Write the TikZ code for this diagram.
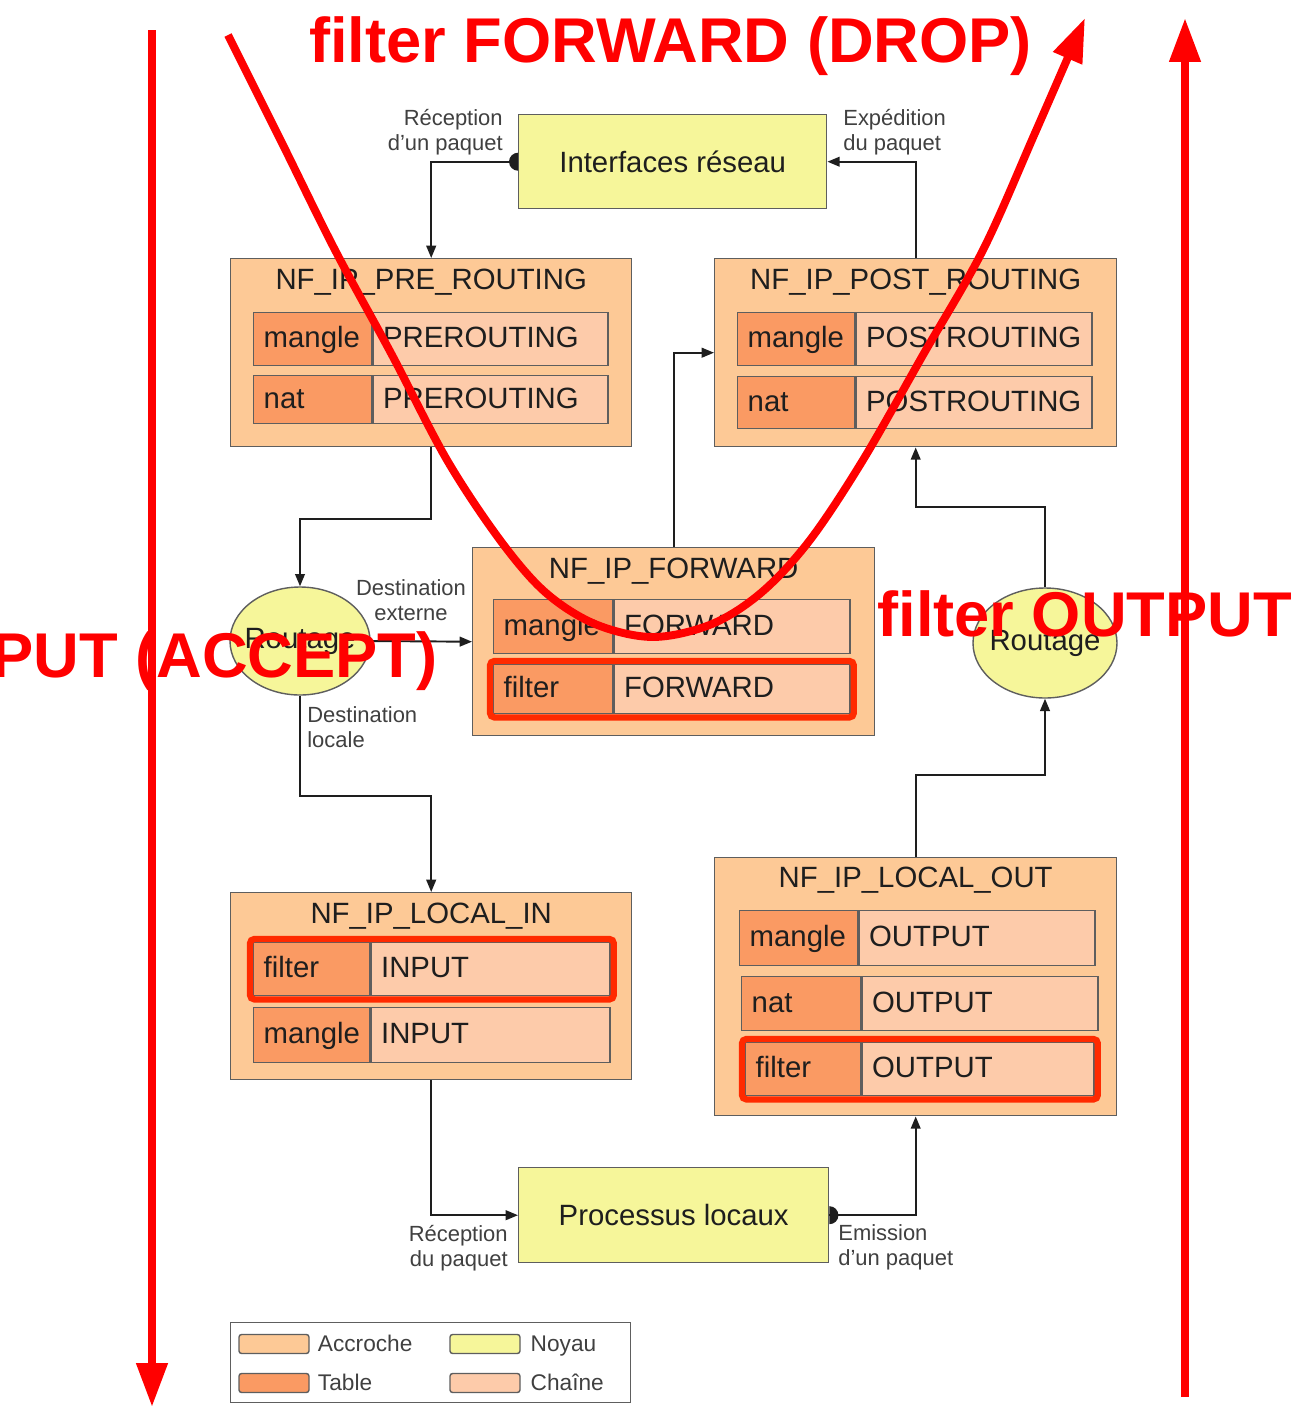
\documentclass[tikz,border=0pt]{standalone}
\usepackage{fontspec}
\setmainfont{Liberation Sans}
\usetikzlibrary{positioning,calc,arrows.meta,shapes.geometric}
\definecolor{accroche}{HTML}{FDC996}
\definecolor{tablefill}{HTML}{FA9A63}
\definecolor{chainfill}{HTML}{FDCBAA}
\definecolor{noyau}{HTML}{F6F69A}
\definecolor{boxline}{HTML}{5E5E5E}
\definecolor{textgrey}{HTML}{1E1E1E}
\definecolor{hilite}{HTML}{FF2A00}
\definecolor{scrawlred}{HTML}{FF0000}
\newcommand{\pxu}{0.02cm}
\newcommand{\hookfont}{\fontsize{16.7pt}{20pt}\selectfont}
\newcommand{\labelfont}{\fontsize{12.5pt}{14.2pt}\selectfont}
\newcommand{\legendfont}{\fontsize{12.9pt}{15pt}\selectfont}
\newcommand{\scrawlfont}{\fontsize{36pt}{40pt}\selectfont\bfseries}
% one row of a hook: name, top-left corner, table width, chain width, height, table, chain
\newcommand{\hookrow}[7]{%
  \node (#1t)[tablecell, text width=#3*\pxu-20*\pxu, minimum height=#5*\pxu] at #2 {#6};
  \node (#1c)[chaincell, text width=#4*\pxu-20*\pxu, minimum height=#5*\pxu, right=0pt of #1t] {#7};}

\begin{document}
\begin{tikzpicture}[x=\pxu, y=-\pxu]
        \tikzstyle{hook}=[draw=boxline, fill=accroche, line width=0.8pt, inner sep=0pt, anchor=north west]
        \tikzstyle{hooktitle}=[font=\hookfont, text=textgrey, inner sep=0pt, anchor=base]
        \tikzstyle{tablecell}=[draw=boxline, fill=tablefill, line width=0.8pt, font=\hookfont, text=textgrey, align=left, inner xsep=10*\pxu, inner ysep=0pt, text height=1.2em, text depth=0.25em, anchor=north west]
        \tikzstyle{chaincell}=[tablecell, fill=chainfill]
        \tikzstyle{kernel}=[draw=boxline, fill=noyau, line width=0.8pt, font=\hookfont, text=textgrey, inner sep=0pt, anchor=north west]
        \tikzstyle{routage}=[ellipse, draw=boxline, fill=noyau, line width=0.8pt, inner sep=0pt]
        \tikzstyle{flow}=[draw=textgrey, line width=1.1pt, -{Triangle[length=7pt,width=5.5pt]}]
        \tikzstyle{flowlabel}=[font=\labelfont, text=textgrey!85, inner sep=0pt]
        \tikzstyle{picked}=[draw=hilite, line width=3.6pt, rounded corners=2.5pt]
        \tikzstyle{swatch}=[draw=boxline, line width=0.8pt, rounded corners=1.5pt, minimum width=70*\pxu, minimum height=19*\pxu, inner sep=0pt]
        \tikzstyle{legendtext}=[font=\legendfont, text=textgrey!85, inner sep=0pt, text height=0.9em, text depth=0.1em, anchor=west]
        \tikzstyle{scrawl}=[draw=scrawlred, line width=4.5pt, -{Triangle[length=25pt,width=17pt]}]
        \tikzstyle{scrawltext}=[font=\scrawlfont, text=scrawlred, inner sep=0pt]
        % page
        \useasboundingbox (0,0) rectangle (1301,1407);
        \clip (0,0) rectangle (1301,1407);
        \fill[white] (0,0) rectangle (1301,1407);
        % kernel parts
        \node (iface)[kernel, minimum width=308*\pxu, minimum height=94*\pxu] at (518,114) {Interfaces réseau};
        \node (proc)[kernel, minimum width=310*\pxu, minimum height=95*\pxu] at (518,1167) {Processus locaux};
        \node (rl)[routage, minimum width=140*\pxu, minimum height=108*\pxu, label={[font=\hookfont, text=textgrey, inner sep=0pt]center:Routage}] at (300,641) {};
        \node (rr)[routage, minimum width=144*\pxu, minimum height=110*\pxu, label={[font=\hookfont, text=textgrey, inner sep=0pt]center:Routage}] at (1045,643) {};
        % PRE_ROUTING
        \node (pre)[hook, minimum width=401*\pxu, minimum height=188*\pxu] at (230,258) {};
        \node (preT)[hooktitle] at ($(pre.north)+(0,31)$) {NF\_IP\_PRE\_ROUTING};
        \hookrow{preM}{(253,312)}{118}{235}{53}{mangle}{PREROUTING}
        \hookrow{preN}{(253,375)}{118}{235}{48}{nat}{PREROUTING}
        % POST_ROUTING
        \node (post)[hook, minimum width=402*\pxu, minimum height=188*\pxu] at (714,258) {};
        \node (postT)[hooktitle] at ($(post.north)+(0,31)$) {NF\_IP\_POST\_ROUTING};
        \hookrow{postM}{(737,312)}{117}{236}{53}{mangle}{POSTROUTING}
        \hookrow{postN}{(737,376)}{117}{236}{52}{nat}{POSTROUTING}
        % FORWARD
        \node (fwd)[hook, minimum width=402*\pxu, minimum height=188*\pxu] at (472,547) {};
        \node (fwdT)[hooktitle] at ($(fwd.north)+(0,31)$) {NF\_IP\_FORWARD};
        \hookrow{fwdM}{(493,599)}{119}{236}{54}{mangle}{FORWARD}
        \hookrow{fwdF}{(493,664)}{119}{236}{49}{filter}{FORWARD}
        \draw[picked] ($(fwdFt.north west)+(-3,-3)$) rectangle ($(fwdFc.south east)+(3,3)$);
        % LOCAL_IN
        \node (lin)[hook, minimum width=401*\pxu, minimum height=187*\pxu] at (230,892) {};
        \node (linT)[hooktitle] at ($(lin.north)+(0,31)$) {NF\_IP\_LOCAL\_IN};
        \hookrow{linF}{(253,942)}{116}{239}{53}{filter}{INPUT}
        \draw[picked] ($(linFt.north west)+(-3,-3)$) rectangle ($(linFc.south east)+(3,3)$);
        \hookrow{linM}{(253,1007)}{116}{239}{55}{mangle}{INPUT}
        % LOCAL_OUT
        \node (lout)[hook, minimum width=402*\pxu, minimum height=258*\pxu] at (714,857) {};
        \node (loutT)[hooktitle] at ($(lout.north)+(0,30)$) {NF\_IP\_LOCAL\_OUT};
        \hookrow{loutM}{(739,910)}{118}{236}{55}{mangle}{OUTPUT}
        \hookrow{loutN}{(741,976)}{119}{236}{54}{nat}{OUTPUT}
        \hookrow{loutF}{(745,1042)}{115}{232}{53}{filter}{OUTPUT}
        \draw[picked] ($(loutFt.north west)+(-3,-3)$) rectangle ($(loutFc.south east)+(3,3)$);
        % packet path
        \draw[flow] (iface.west) -| (pre.north);
        \fill[textgrey] (iface.west) ++(0,9) arc[start angle=90, end angle=270, radius=9] -- cycle;
        \draw[flow] (post.north) |- (iface.east);
        \draw[flow] (pre.south) -- ++(0,72) -| (rl.north);
        \draw[flow] (rl.east) -- (fwd.west);
        \draw[flow] (rl.south) -- ++(0,100) -| (lin.north);
        \draw[flow] (fwd.north) |- (post.west);
        \draw[flow] (lin.south) |- (proc.west);
        \draw[flow] (proc.east) -| (lout.south);
        \fill[textgrey] (proc.east) ++(0,9) arc[start angle=90, end angle=-90, radius=9] -- cycle;
        \draw[flow] (lout.north) -- ++(0,-82) -| (rr.south);
        \draw[flow] (rr.north) -- ++(0,-80) -| (post.south);
        % labels on the path
        \node (rxIface)[flowlabel, align=right, anchor=north east] at (503,109) {Réception\\d'un paquet};
        \node (txIface)[flowlabel, align=left, anchor=north west] at (843,109) {Expédition\\du paquet};
        \node (extLbl)[flowlabel, align=center, anchor=north] at (411,579) {Destination\\externe};
        \node (locLbl)[flowlabel, align=left, anchor=north west] at (307,706) {Destination\\locale};
        \node (rxProc)[flowlabel, align=right, anchor=north east] at (508,1225) {Réception\\du paquet};
        \node (txProc)[flowlabel, align=left, anchor=north west] at (838,1224) {Emission\\d'un paquet};
        % legend
        \node (legend)[draw=boxline, line width=0.8pt, minimum width=400*\pxu, minimum height=80*\pxu, inner sep=0pt, anchor=north west] at (230,1322) {};
        \node (swA)[swatch, fill=accroche] at (274,1344) {};
        \node (swT)[swatch, fill=tablefill] at (274,1383) {};
        \node (swN)[swatch, fill=noyau] at (485,1344) {};
        \node (swC)[swatch, fill=chainfill] at (485,1383) {};
        \node (txA)[legendtext, right=4.5pt of swA] {Accroche};
        \node (txT)[legendtext, right=4.5pt of swT] {Table};
        \node (txN)[legendtext, right=5.5pt of swN] {Noyau};
        \node (txC)[legendtext, right=5.5pt of swC] {Chaîne};
        % red notes drawn over the diagram
        \coordinate (inTop) at (152,30);
        \coordinate (inEnd) at (152,1407);
        \coordinate (outStart) at (1185,1397);
        \coordinate (outTop) at (1185,18);
        \draw[scrawl] (inTop) -- (inEnd);
        \draw[scrawl] (outStart) -- (outTop);
        \draw[scrawl] plot[smooth, tension=0.55] coordinates {(228,35) (282,143) (335,250) (392,355) (447,460) (500,540) (545,592) (595,624) (653,637) (712,624) (762,592) (810,540) (863,460) (923,355) (983,250) (1035,133) (1085,18)};
        \node (dropFwd)[scrawltext, anchor=base west] at (309,62) {filter FORWARD (DROP)};
        \node (acceptIn)[scrawltext, anchor=base east] at (438,677) {filter INPUT (ACCEPT)};
        \node (outFilter)[scrawltext, anchor=base west] at (877,636) {filter OUTPUT};
\end{tikzpicture}
\end{document}
